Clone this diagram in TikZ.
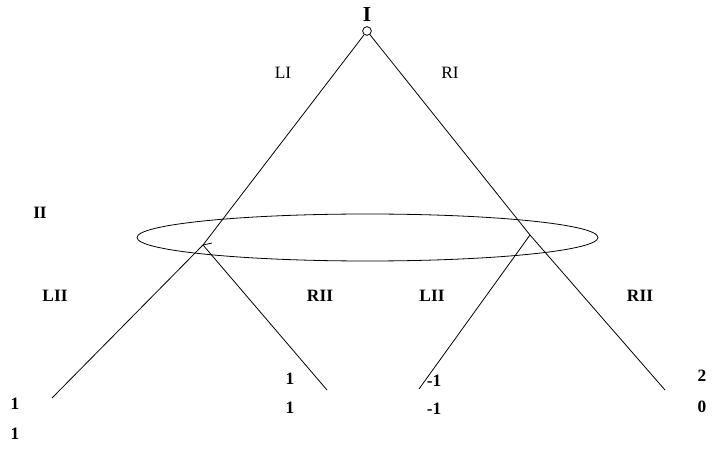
\documentclass[tikz,border=0pt]{standalone}
\usepackage{fontspec}
\setmainfont{Liberation Serif}
\begin{document}
\begin{tikzpicture}[x=0.75pt,y=-0.75pt,
  edge/.style={draw=black,line width=0.6pt},
  lbl/.style={font=\fontsize{13}{15}\selectfont\bfseries,inner sep=0pt},
  lbllight/.style={font=\fontsize{13}{15}\selectfont,inner sep=0pt},
  pay/.style={font=\fontsize{13}{15}\selectfont\bfseries,inner sep=0pt},
  rootdot/.style={circle,draw=black,line width=0.6pt,fill=white,inner sep=0pt,minimum size=6.5}]
\useasboundingbox (0,0) rectangle (719,453);
% information set
\draw[line width=0.6pt] (367.5,237.5) ellipse [x radius=230.5, y radius=23.5];
% decision points
\coordinate (n1) at (203,245);
\coordinate (n2) at (530,235);
\coordinate (l1) at (52,398);
\coordinate (l2) at (327,390);
\coordinate (l3) at (419,389);
\coordinate (l4) at (665,390);
\coordinate (tk) at (212,243);
\node[rootdot] (root) at (367,31) {};
% edges
\draw[edge] (root) -- (n1);
\draw[edge] (root) -- (n2);
\draw[edge] (n1) -- (l1);
\draw[edge] (n1) -- (l2);
\draw[edge] (n2) -- (l3);
\draw[edge] (n2) -- (l4);
\draw[edge] (n1) -- (tk);
% labels
\node[lbl,font=\fontsize{16}{18}\selectfont\bfseries] (tI) at (367,15) {I};
\node[lbllight] (tLI) at (283,73) {LI};
\node[lbllight] (tRI) at (450,73) {RI};
\node[lbl] (tII) at (40,213) {II};
\node[lbl] (tLII1) at (55,296) {LII};
\node[lbl] (tRII1) at (320,296) {RII};
\node[lbl] (tLII2) at (432,296) {LII};
\node[lbl] (tRII2) at (640,296) {RII};
% payoffs
\node[pay] (p1a) at (15,404) {1};
\node[pay] (p1b) at (15,434) {1};
\node[pay] (p2a) at (290,379) {1};
\node[pay] (p2b) at (290,408) {1};
\node[pay] (p3a) at (434,381) {-1};
\node[pay] (p3b) at (434,409) {-1};
\node[pay] (p4a) at (702,376) {2};
\node[pay] (p4b) at (702,407) {0};
\end{tikzpicture}
\end{document}
